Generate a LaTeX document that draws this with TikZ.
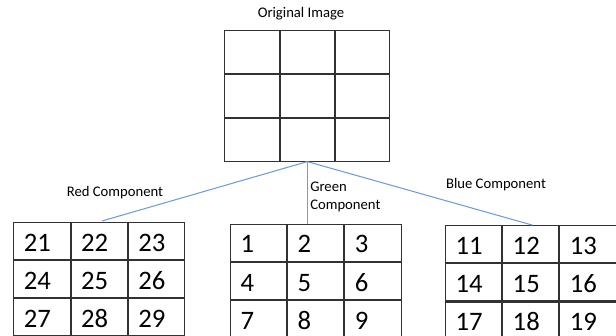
\documentclass[tikz,border=0pt]{standalone}
\usepackage{fontspec}
\setmainfont{Carlito}
\usetikzlibrary{matrix}
\definecolor{linkblue}{RGB}{112,156,220}
\definecolor{gridline}{RGB}{50,50,50}
\begin{document}
\begin{tikzpicture}[x=0.75pt,y=-0.75pt,
  lbl/.style={font=\fontsize{11}{13.3}\selectfont, inner sep=0pt},
  conn/.style={draw=linkblue, line width=0.8pt},
  cellgrid/.style={matrix of nodes, inner sep=0pt, outer sep=0pt,
     column sep=0pt, row sep=0pt,
     nodes={draw=gridline, line width=0.8pt, outer sep=0pt, inner xsep=7.5pt,
       inner ysep=0pt, minimum width=42.1pt, minimum height=#1,
       text height=15.4pt, text depth=0pt,
       font=\fontsize{20}{24}\selectfont, anchor=center,
       execute at begin node={\hbox to 27.1pt\bgroup},
       execute at end node={\hfil\egroup}}},
  emptygrid/.style={matrix of nodes, nodes in empty cells, inner sep=0pt, outer sep=0pt,
     column sep=0pt, row sep=0pt,
     nodes={draw=gridline, line width=0.8pt, outer sep=0pt, inner sep=0pt,
       minimum width=40.65pt, minimum height=32pt, anchor=center}},
]
\useasboundingbox (0,0) rectangle (616,335);

\node[lbl] (origtitle) at (301,14) {Original Image};
\matrix[emptygrid] (orig) at (307.3,96) {
  & & \\
  & & \\
  & & \\
};

\matrix[cellgrid=27.8pt] (red) at (99.2,279) {
  21 & 22 & 23 \\
  24 & 25 & 26 \\
  27 & 28 & 29 \\
};
\matrix[cellgrid=27.8pt] (green) at (315.8,280.8) {
  1 & 2 & 3 \\
  4 & 5 & 6 \\
  7 & 8 & 9 \\
};
\matrix[cellgrid=27.8pt] (blue) at (530.8,282.4) {
  11 & 12 & 13 \\
  14 & 15 & 16 \\
  17 & 18 & 19 \\
};

\node[lbl] (redlbl) at (115,192.7) {Red Component};
\node[lbl, align=left, anchor=west] (greenlbl) at (310,197.2) {Green\\Component};
\node[lbl] (bluelbl) at (496,184.3) {Blue Component};

\draw[conn, shorten >=2.3pt] (orig.south) -- (red.north);
\draw[conn] (orig.south) -- (orig.south |- green.north);
\draw[conn] (orig.south) -- ([xshift=1.4pt]blue.north);
\end{tikzpicture}
\end{document}
